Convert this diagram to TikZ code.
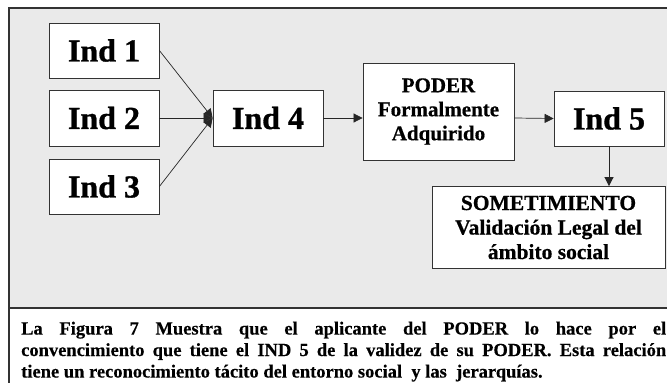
\documentclass[tikz,border=0pt]{standalone}
\usepackage{fontspec}
\setmainfont{Liberation Serif}
\usetikzlibrary{arrows.meta}
\definecolor{bggray}{HTML}{EAEAEA}
\definecolor{framec}{HTML}{333333}
\tikzset{
  box/.style={draw=framec, fill=white, line width=0.8pt, inner sep=0pt, align=center},
  indbox/.style={box, minimum width=110pt, minimum height=55pt, font=\fontsize{32}{36}\selectfont\bfseries\addfontfeature{FakeBold=1}},
  conn/.style={draw=black!85, line width=0.7pt, -{Triangle[length=9pt,width=9pt]}}
}
\begin{document}
\begin{tikzpicture}[x=1pt,y=-1pt]
\useasboundingbox (0,0) rectangle (667,383);
\clip (0,0) rectangle (667,383);
\draw[framec, fill=bggray, line width=1.3pt] (9,8) rectangle (690,400);
\draw[framec, fill=white, line width=1.3pt] (9,308) rectangle (690,400);
\node[indbox] (i1) at (104,50.5) {Ind 1};
\node[indbox, minimum height=56pt] (i2) at (104,118) {Ind 2};
\node[indbox] (i3) at (104,186.5) {Ind 3};
\node[indbox, minimum height=56pt] (i4) at (268,118) {Ind 4};
\node[box, minimum width=151pt, minimum height=97pt, font=\fontsize{21}{24}\selectfont\bfseries\addfontfeature{FakeBold=0.6}] (p) at (438.5,111.5) {PODER\\Formalmente\\Adquirido};
\node[indbox] (i5) at (609,118.5) {Ind 5};
\node[box, minimum width=233pt, minimum height=82pt, font=\fontsize{21.5}{24.5}\selectfont\bfseries\addfontfeature{FakeBold=0.6}] (s) at (548.5,227.5) {SOMETIMIENTO\\Validación Legal del\\ámbito social};
\draw[conn] (i1.east) -- (i4.west);
\draw[conn] (i2.east) -- (i4.west);
\draw[conn] (i3.east) -- (i4.west);
\draw[conn] (i4.east) -- (i4.east -| p.west);
\draw[conn] (i4.east -| p.east) -- (i5.west);
\draw[conn] (i5.south) -- (s.north -| i5.south);
\node[anchor=north west, inner sep=0pt, text width=645pt, align=justify, font=\fontsize{18.5}{21.5}\selectfont\bfseries\addfontfeature{FakeBold=0.4}] (cap) at (21,321.5) {La Figura 7 Muestra que el aplicante del PODER lo hace por el\linebreak convencimiento que tiene el IND 5 de la validez de su PODER. Esta relación\linebreak tiene un reconocimiento tácito del entorno social\ \ y las\ \ jerarquías.};
\end{tikzpicture}
\end{document}
